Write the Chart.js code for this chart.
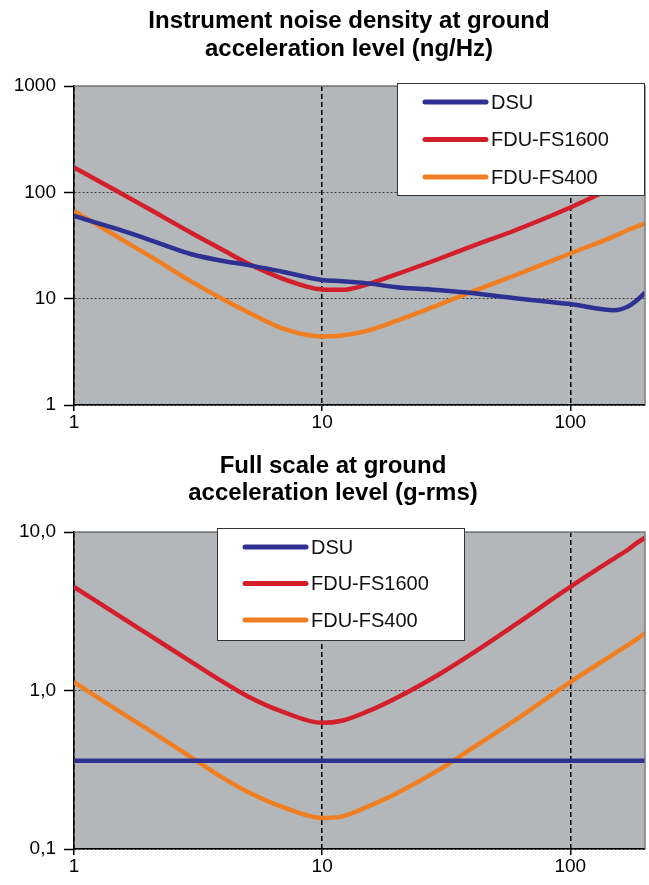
<!DOCTYPE html>
<html>
<head>
<meta charset="utf-8">
<script src="https://cdn.jsdelivr.net/npm/chart.js@4.4.0/dist/chart.umd.min.js"></script>
<style>
  html, body { margin: 0; padding: 0; background: #fff; }
  .box { position: absolute; left: 0; width: 649px; }
</style>
</head>
<body>
<div class="box" style="top:0;height:442px"><canvas id="noise" width="649" height="442"></canvas></div>
<div class="box" style="top:442px;height:443px"><canvas id="fullscale" width="649" height="443"></canvas></div>
<script>
// frequencies (Hz), shared by every series
const freq = [1, 1.5, 2, 3, 4, 5, 7, 10, 12, 15, 20, 30, 40, 60, 100, 150, 170, 185, 200];
const xTicks = [1, 10, 100];
const seriesNames = ['DSU', 'FDU-FS1600', 'FDU-FS400'];

// instrument noise density (ng/Hz)
const noiseDSU    = [60, 45, 36, 26, 22.6, 20.8, 17.8, 15, 14.6, 14, 12.8, 12, 11.3, 10.1, 8.9, 7.8, 8.4, 9.6, 11.4];
const noiseFS1600 = [171, 102, 70, 41, 28.5, 21.5, 15.3, 12.2, 12.1, 13.5, 17, 24, 31, 44, 72, 112, 130, 142, 155];
const noiseFS400  = [67, 38, 25.5, 14.3, 9.8, 7.5, 5.2, 4.4, 4.5, 4.95, 6.2, 8.9, 11.6, 16.6, 26.6, 38.5, 44, 47.5, 51];
const noiseTicks  = [1, 10, 100, 1000];
const noiseTickLabels = ['1', '10', '100', '1000'];

// full scale (g-rms)
const fullDSU    = [0.36, 0.36, 0.36, 0.36, 0.36, 0.36, 0.36, 0.36, 0.36, 0.36, 0.36, 0.36, 0.36, 0.36, 0.36, 0.36, 0.36, 0.36, 0.36];
const fullFS1600 = [4.5, 3.0, 2.25, 1.5, 1.13, 0.92, 0.73, 0.625, 0.645, 0.73, 0.9, 1.28, 1.7, 2.6, 4.5, 6.8, 7.7, 8.5, 9.2];
const fullFS400  = [1.13, 0.75, 0.565, 0.375, 0.28, 0.23, 0.183, 0.157, 0.16, 0.183, 0.225, 0.32, 0.43, 0.65, 1.13, 1.7, 1.93, 2.1, 2.3];
const fullTicks  = [0.1, 1, 10];
const fullTickLabels = ['0,1', '1,0', '10,0'];

const FONT = '"Liberation Sans", Arial, sans-serif';
const colors = ['#2e3192', '#d21f2b', '#f07f24'];

// grey plot area + grey top/right frame
const plotFrame = {
  id: 'plotFrame',
  beforeDraw(chart) {
    const a = chart.chartArea, c = chart.ctx;
    c.save();
    c.fillStyle = '#b4b7b9';
    c.fillRect(a.left, a.top, a.right - a.left, a.bottom - a.top);
    c.restore();
  },
  afterDatasetsDraw(chart) {
    const a = chart.chartArea, c = chart.ctx;
    c.save();
    c.strokeStyle = '#7b7d7f';
    c.lineWidth = 1.5;
    c.beginPath();
    c.moveTo(a.left, a.top);
    c.lineTo(a.right, a.top);
    c.lineTo(a.right, a.bottom);
    c.stroke();
    c.restore();
  }
};

// two-line bold title, centred where the original had it (not on the canvas centre)
const offsetTitle = {
  id: 'offsetTitle',
  afterDraw(chart, args, opts) {
    const c = chart.ctx;
    c.save();
    c.font = 'bold 24px ' + FONT;
    c.fillStyle = '#000';
    c.textAlign = 'center';
    c.textBaseline = 'middle';
    opts.lines.forEach((t, i) => c.fillText(t, opts.cx, opts.y + i * opts.gap));
    c.restore();
  }
};

// legend drawn as a white box inside the plot
const boxLegend = {
  id: 'boxLegend',
  afterDraw(chart, args, opts) {
    const c = chart.ctx;
    c.save();
    c.fillStyle = '#fff';
    c.fillRect(opts.left, opts.top, opts.width, opts.height);
    c.strokeStyle = '#333';
    c.lineWidth = 1;
    c.strokeRect(opts.left + 0.5, opts.top + 0.5, opts.width, opts.height);
    c.font = '20px ' + FONT;
    c.textBaseline = 'middle';
    c.lineCap = 'round';
    chart.data.datasets.forEach((ds, i) => {
      const y = opts.top + opts.firstRow + i * opts.rowGap;
      c.strokeStyle = ds.borderColor;
      c.lineWidth = 5;
      c.beginPath();
      c.moveTo(opts.left + 28, y);
      c.lineTo(opts.left + 89, y);
      c.stroke();
      c.fillStyle = '#111';
      c.fillText(ds.label, opts.left + 94, y + 1);
    });
    c.restore();
  }
};

function makeChart(id, series, yTicks, yLabels, title, plotTop, xHeight, legend) {
  return new Chart(document.getElementById(id), {
    type: 'line',
    data: {
      datasets: series.map((vals, i) => ({
        label: seriesNames[i],
        data: freq.map((f, j) => ({ x: f, y: vals[j] })),
        borderColor: colors[i],
        backgroundColor: colors[i],
        borderWidth: 4.5,
        pointRadius: 0,
        cubicInterpolationMode: 'monotone',
        fill: false
      }))
    },
    options: {
      responsive: false,
      animation: false,
      layout: { padding: { top: plotTop, right: 4, bottom: 0, left: 0 } },
      plugins: {
        legend: { display: false },
        tooltip: { enabled: false },
        title: { display: false },
        offsetTitle: title,
        boxLegend: legend
      },
      scales: {
        x: {
          type: 'logarithmic',
          min: 1,
          max: 200,
          afterBuildTicks: s => { s.ticks = xTicks.map(v => ({ value: v })); },
          afterFit: s => { s.height = xHeight; },
          ticks: {
            callback: v => String(v),
            color: '#000',
            font: { family: FONT, size: 19 },
            padding: 0,
            maxRotation: 0,
            autoSkip: false
          },
          grid: { color: '#000', lineWidth: 1.5, tickLength: 6, tickColor: '#000', tickWidth: 1.5 },
          border: { color: '#000', width: 1.5, dash: [5, 3] }
        },
        y: {
          type: 'logarithmic',
          min: yTicks[0],
          max: yTicks[yTicks.length - 1],
          afterBuildTicks: s => { s.ticks = yTicks.map(v => ({ value: v })); },
          afterFit: s => { s.width = 74; },
          ticks: {
            callback: (v, i) => yLabels[i],
            color: '#000',
            font: { family: FONT, size: 19 },
            padding: 8
          },
          grid: { color: '#3c3c3c', lineWidth: 1, tickLength: 10, tickColor: '#000', tickWidth: 1.5 },
          border: { color: '#000', width: 1.5, dash: [2, 2] }
        }
      }
    },
    plugins: [plotFrame, offsetTitle, boxLegend]
  });
}

makeChart('noise', [noiseDSU, noiseFS1600, noiseFS400], noiseTicks, noiseTickLabels,
  { lines: ['Instrument noise density at ground', 'acceleration level (ng/Hz)'], cx: 349, y: 21, gap: 28 },
  86, 37,
  { left: 397, top: 83, width: 247, height: 112, firstRow: 19, rowGap: 37.5 });

makeChart('fullscale', [fullDSU, fullFS1600, fullFS400], fullTicks, fullTickLabels,
  { lines: ['Full scale at ground', 'acceleration level (g-rms)'], cx: 333, y: 24, gap: 27 },
  90, 36,
  { left: 217, top: 86, width: 247, height: 112, firstRow: 19, rowGap: 36.5 });
</script>
</body>
</html>
